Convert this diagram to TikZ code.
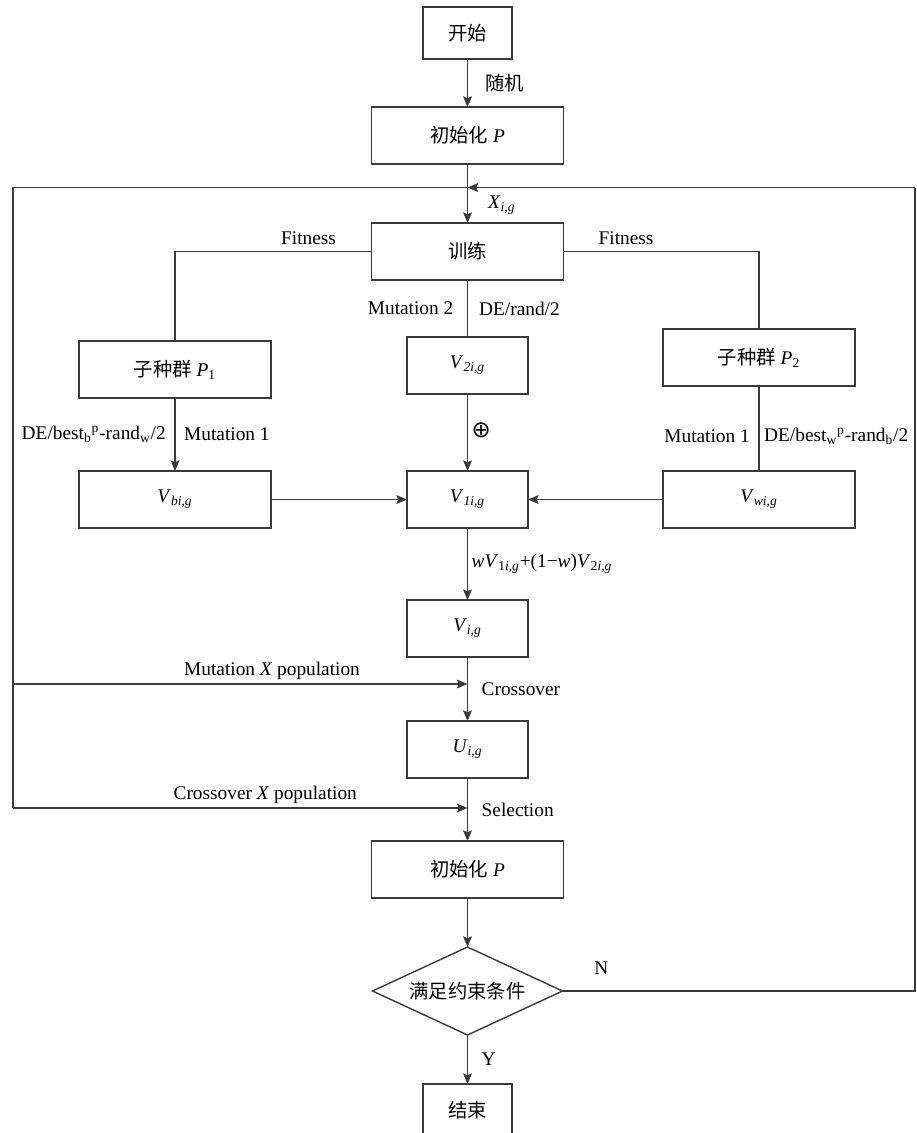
\documentclass[tikz,border=0pt]{standalone}
\usepackage{fontspec}
\setmainfont{Liberation Serif}
\newfontfamily\cjk{Noto Sans CJK SC}
\newfontfamily\symfont{DejaVu Sans}
\usetikzlibrary{shapes.geometric, arrows.meta, positioning}
\definecolor{linegray}{HTML}{3A3A3A}
\newcommand{\zh}[1]{{\cjk #1}}
\newcommand{\mv}[2]{\textit{#1}\textsubscript{\textit{#2}}}
\tikzset{
  box/.style={rectangle, draw=linegray, line width=0.8pt, outer sep=0pt,
              minimum width=3.84cm, minimum height=1.14cm,
              inner sep=2pt, font=\fontsize{11}{13}\selectfont},
  smallbox/.style={box, minimum width=2.42cm},
  tinybox/.style={box, minimum width=1.78cm, minimum height=1.04cm},
  decision/.style={diamond, aspect=2.2, draw=linegray, line width=0.8pt, outer sep=0pt,
                   minimum width=3.8cm, minimum height=1.76cm,
                   inner sep=0pt, font=\fontsize{11}{13}\selectfont},
  arrow/.style={-{Stealth[length=6pt, width=5pt, inset=1pt]}, line width=0.8pt, color=linegray},
  link/.style={line width=0.8pt, color=linegray},
  lbl/.style={font=\fontsize{11}{13}\selectfont, inner sep=2pt, text=black},
}
\begin{document}
\begin{tikzpicture}
  \useasboundingbox (0,0) rectangle (18.32,-22.66);
  % main column
  \node[tinybox] (start) at (9.35,-0.66) {\zh{开始}};
  \node[box, below=0.96cm of start] (init) {\zh{初始化} \textit{P}};
  \node[box, below=1.18cm of init] (train) {\zh{训练}};
  \node[smallbox, below=1.14cm of train] (vtwo) {\mv{V}{2i,g}};
  \node[smallbox, below=1.54cm of vtwo] (vone) {\mv{V}{1i,g}};
  \node[smallbox, below=1.44cm of vone] (vi) {\mv{V}{i,g}};
  \node[smallbox, below=1.28cm of vi] (ui) {\mv{U}{i,g}};
  \node[box, below=1.26cm of ui] (update) {\zh{初始化} \textit{P}};
  \node[decision, below=0.98cm of update] (check) {\zh{满足约束条件}};
  \node[tinybox, below=0.98cm of check] (stop) {\zh{结束}};
  % sub-populations
  \node[box, left=2.72cm of vone] (vb) {\mv{V}{bi,g}};
  \node[box, right=2.70cm of vone] (vw) {\mv{V}{wi,g}};
  \node[box, above=1.46cm of vb] (pone) {\zh{子种群} \textit{P}\textsubscript{1}};
  \node[box, above=1.70cm of vw] (ptwo) {\zh{子种群} \textit{P}\textsubscript{2}};
  % loop points
  \coordinate (tl) at (0.26,-3.75);
  \coordinate (ml) at (0.26,-13.68);
  \coordinate (bl) at (0.26,-16.16);
  \coordinate (tr) at (18.30,-3.75);

  \draw[arrow] (start) -- (init) node[lbl, midway, right, xshift=0.27cm] {\zh{随机}};
  \draw[arrow] (init) -- (train) node[lbl, pos=0.7, right, xshift=0.33cm] {\mv{X}{i,g}};
  \draw[link] (train.west) -| (pone.north) node[lbl, above, pos=0.16, yshift=0.05cm] {Fitness};
  \draw[link] (train.east) -| (ptwo.north) node[lbl, above, pos=0.16, yshift=0.05cm] {Fitness};
  \draw[link] (train) -- (vtwo)
    node[lbl, midway, left, xshift=-0.2cm] {Mutation 2}
    node[lbl, midway, right, xshift=0.15cm] {DE/rand/2};
  \draw[arrow] (vtwo) -- (vone) node[lbl, midway, right, yshift=0.05cm] {\fontsize{13}{13}\symfont ⊕};
  \draw[arrow] (pone) -- (vb)
    node[lbl, midway, left, xshift=-0.1cm] {DE/best\textsubscript{b}\textsuperscript{p}-rand\textsubscript{w}/2}
    node[lbl, midway, right, xshift=0.1cm] {Mutation 1};
  \draw[link] (ptwo) -- (vw)
    node[lbl, pos=0.59, left, xshift=-0.1cm] {Mutation 1}
    node[lbl, pos=0.59, right, xshift=0.02cm] {DE/best\textsubscript{w}\textsuperscript{p}-rand\textsubscript{b}/2};
  \draw[arrow] (vb) -- (vone);
  \draw[arrow] (vw) -- (vone);
  \draw[arrow] (vone) -- (vi) node[lbl, midway, right] {\textit{wV}\textsubscript{1\textit{i,g}}+(1−\textit{w})\textit{V}\textsubscript{2\textit{i,g}}};
  \draw[arrow] (vi) -- (ui) node[lbl, midway, right, xshift=0.2cm] {Crossover};
  \draw[arrow] (ui) -- (update) node[lbl, midway, right, xshift=0.2cm] {Selection};
  \draw[arrow] (update) -- (check);
  \draw[arrow] (check) -- (stop) node[lbl, midway, right, xshift=0.2cm] {Y};
  % feedback lines
  \draw[link] (tl -| init.south) -- (tl) -- (bl);
  \draw[arrow] (ml) -- (ml -| vi.south) node[lbl, above, pos=0.57] {Mutation \textit{X} population};
  \draw[arrow] (bl) -- (bl -| ui.south) node[lbl, above, pos=0.555] {Crossover \textit{X} population};
  \draw[link] (check.east) -- (check.east -| tr) node[lbl, above, pos=0.11, yshift=0.25cm] {N} -- (tr);
  \draw[arrow] (tr) -- (tr -| init.south);
\end{tikzpicture}
\end{document}
